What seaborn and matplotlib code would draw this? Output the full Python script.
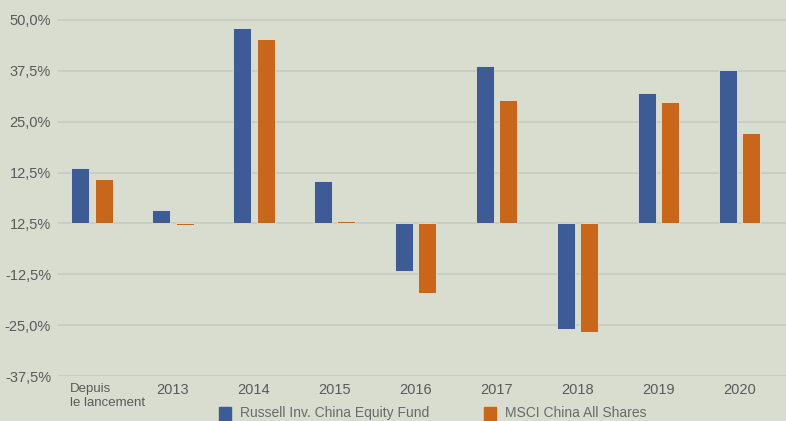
import matplotlib
matplotlib.use('Agg')
import matplotlib.pyplot as plt
import matplotlib.transforms as mtransforms
import pandas as pd
import seaborn as sns

# Annual returns (%)
categories = ['Depuis\nle lancement', '2013', '2014', '2015', '2016', '2017', '2018', '2019', '2020']
fund = [13.5, 3.4, 47.9, 10.4, -11.7, 38.7, -25.9, 32.1, 37.7]
index = [10.8, -0.4, 45.2, 0.7, -17.2, 30.3, -26.8, 29.9, 22.2]
series_names = ['Russell Inv. China Equity Fund', 'MSCI China All Shares']
ytick_values = [50, 37.5, 25, 12.5, 0, -12.5, -25, -37.5]
ytick_labels = ['50,0%', '37,5%', '25,0%', '12,5%', '12,5%', '-12,5%', '-25,0%', '-37,5%']

df = pd.DataFrame({
    'cat': categories * 2,
    'value': fund + index,
    'series': [series_names[0]] * len(categories) + [series_names[1]] * len(categories),
})

bg = '#d9ddd0'
palette = {series_names[0]: '#3d5b94', series_names[1]: '#c8661c'}

sns.set_style('white')
plt.rcParams['font.family'] = ['Liberation Sans', 'DejaVu Sans']

fig = plt.figure(figsize=(7.86, 4.21), dpi=100)
fig.patch.set_facecolor(bg)
ax = fig.add_axes([58 / 786, 45 / 421, 728 / 786, 376 / 421])
ax.set_facecolor(bg)

sns.barplot(data=df, x='cat', y='value', hue='series', palette=palette,
            saturation=1, width=0.57, gap=0.22, edgecolor='#e3e4d8', linewidth=0.6,
            legend=False, ax=ax, zorder=3)

ax.set_xlim(-0.42, 8.57)
ax.set_ylim(-37.5, 54.9)
ax.set_yticks(ytick_values)
ax.set_yticklabels(ytick_labels)
ax.yaxis.grid(True, color='#c8cbbd', linewidth=1.2, zorder=0)
ax.xaxis.grid(False)
for s in ax.spines.values():
    s.set_visible(False)
ax.tick_params(axis='both', length=0, colors='#5a5a5a', labelsize=10.5)
ax.tick_params(axis='y', pad=5)
ax.tick_params(axis='x', pad=5)
ax.set_xlabel('')
ax.set_ylabel('')

# first label is left aligned in the original
lbl = ax.get_xticklabels()[0]
lbl.set_horizontalalignment('left')
lbl.set_multialignment('left')
lbl.set_fontsize(9.5)
lbl.set_transform(lbl.get_transform() + mtransforms.ScaledTranslation(-16 / 72, 0, fig.dpi_scale_trans))

# legend along the bottom
for x0, name in [(219, series_names[0]), (484, series_names[1])]:
    fig.patches.append(plt.Rectangle((x0 / 786, 0 / 421), 12 / 786, 14 / 421,
                                     transform=fig.transFigure, color=palette[name]))
    fig.text((x0 + 21) / 786, 8 / 421, name, color='#6a6a6a', fontsize=10, va='center')

fig.savefig('out.png', dpi=100, facecolor=bg)
